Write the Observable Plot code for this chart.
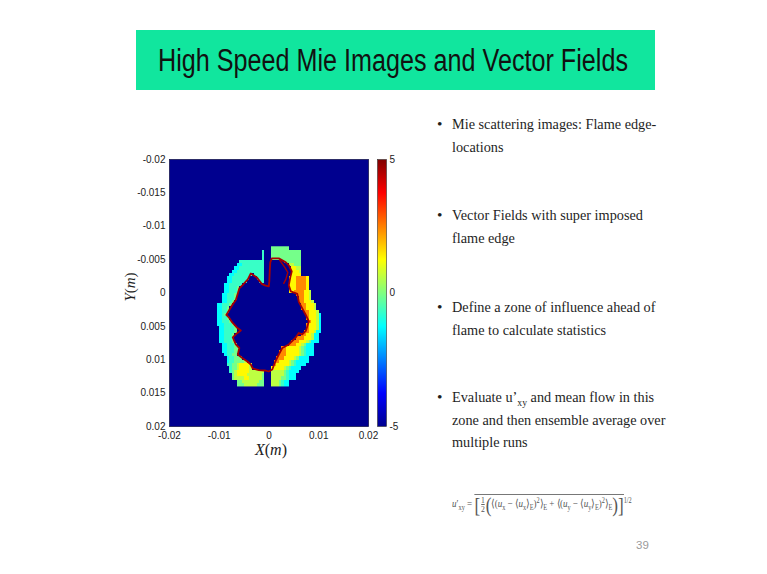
<!DOCTYPE html>
<html>
<head>
<meta charset="utf-8">
<script src="https://cdn.jsdelivr.net/npm/d3@7"></script>
<script src="https://cdn.jsdelivr.net/npm/@observablehq/plot@0.6"></script>
<style>
  html, body { margin: 0; padding: 0; background: #ffffff; }
  body { width: 767px; height: 574px; position: relative; overflow: hidden; }
  .abs { position: absolute; }
  #title { left: 136px; top: 30px; width: 519px; height: 60px; background: #11e69e; }
  #ttext { position: absolute; left: 22px; top: 15px; font-family: 'Liberation Sans', Arial, sans-serif; font-size: 31px; line-height: 31px;
           color: #111; white-space: nowrap; transform-origin: 0 0; }
  .dot { font-family: 'Liberation Serif', 'Times New Roman', serif; font-size: 15.5px; line-height: 22.5px; color: #1e1e1e; }
  .txt { font-family: 'Liberation Serif', 'Times New Roman', serif; font-size: 15.5px; line-height: 22.5px; color: #1e1e1e;
         white-space: nowrap; transform: scaleX(0.92); transform-origin: 0 0; }
  .txt sub { font-size: 0.68em; vertical-align: -0.4em; line-height: 0; }
  .axlab { font-family: 'Liberation Serif', 'Times New Roman', serif; color: #222; white-space: nowrap; }
  #formula { font-family: 'Liberation Serif', 'Times New Roman', serif; font-size: 10.5px; color: #555; white-space: nowrap;
             transform: scaleX(0.86); transform-origin: 0 50%; }
  #formula sub, #formula sup { font-size: 0.7em; line-height: 0; }
  #formula .ov { border-top: 0.8px solid #777; display: inline-block; padding-top: 1px; }
  #formula .frac { display: inline-block; vertical-align: middle; text-align: center; font-size: 0.85em; line-height: 0.95em; margin: 0 1px; }
  #formula .frac span { display: block; }
  #formula .frac span:first-child { border-bottom: 0.6px solid #666; }
  #formula .big { font-size: 1.9em; vertical-align: -0.22em; line-height: 0; }
</style>
</head>
<body>

<div id="title" class="abs"><span id="ttext">High Speed Mie Images and Vector Fields</span></div>

<div id="plot" class="abs" style="left:100px;top:140px"></div>
<div id="cbar" class="abs" style="left:370px;top:150px"></div>

<div class="abs axlab" style="left:271px;top:450px;transform:translate(-50%,-50%);font-size:16px"><i>X</i>(<i>m</i>)</div>
<div class="abs axlab" style="left:130px;top:287px;transform:translate(-50%,-50%) rotate(-90deg);font-size:15px"><i>Y</i>(<i>m</i>)</div>

<div class="abs dot" style="left:437px;top:113px">•</div>
<div class="abs txt" style="left:452px;top:113px">Mie scattering images: Flame edge-<br>locations</div>

<div class="abs dot" style="left:437px;top:204px">•</div>
<div class="abs txt" style="left:452px;top:204px">Vector Fields with super imposed<br>flame edge</div>

<div class="abs dot" style="left:437px;top:296px">•</div>
<div class="abs txt" style="left:452px;top:296px">Define a zone of influence ahead of<br>flame to calculate statistics</div>

<div class="abs dot" style="left:437px;top:386px">•</div>
<div class="abs txt" style="left:452px;top:386px">Evaluate u’<sub>xy</sub> and mean flow in this<br>zone and then ensemble average over<br>multiple runs</div>

<div id="formula" class="abs" style="left:452px;top:494px">
<i>u</i>′<sub>xy</sub> = <span class="ov"><span class="big">[</span><span class="frac"><span>1</span><span>2</span></span><span class="big">(</span>⟨(<i>u</i><sub>x</sub> − ⟨<i>u</i><sub>x</sub>⟩<sub>E</sub>)<sup>2</sup>⟩<sub>E</sub> + ⟨(<i>u</i><sub>y</sub> − ⟨<i>u</i><sub>y</sub>⟩<sub>E</sub>)<sup>2</sup>⟩<sub>E</sub><span class="big">)</span><span class="big">]</span></span><sup>1/2</sup>
</div>

<div class="abs" style="left:636px;top:539px;font:11.5px 'Liberation Sans', Arial, sans-serif;color:#9a9a9a">39</div>

<script>
// ---------- data ----------
// axis ticks
const xTicks = [-0.02, -0.01, 0, 0.01, 0.02];
const xTickLabels = ["-0.02", "-0.01", "0", "0.01", "0.02"];
const yTicks = [-0.02, -0.015, -0.01, -0.005, 0, 0.005, 0.01, 0.015, 0.02];
const yTickLabels = ["-0.02", "-0.015", "-0.01", "-0.005", "0", "0.005", "0.01", "0.015", "0.02"];
const cbTicks = [-5, 0, 5];
const cbTickLabels = ["-5", "0", "5"];
const colorLimits = [-5, 5];

// field grid (0.5 mm cells) covering the zone of influence
const gridCols = 44, gridRows = 42;
const gridX = [-0.011, 0.011];
const gridY = [-0.007, 0.014];
// colour levels used in the grid (value of each level)
const levelChars  = [".", "b", "c", "a", "g", "l", "y", "o", "r"];
const levelValues = [-5, -2, -1.25, -0.7, -0.1, 0.6, 1.3, 2.4, 3.5];
// run-length rows, top (y=-0.007) to bottom (y=0.014)
const fieldRows = [
  "23.7g14.",
  "19.1a3.12g9.",
  "19.1a3.12g9.",
  "19.1a3.12g9.",
  "10.10a8.7g9.",
  "9.2c9a10.2l3g9.",
  "8.2c10a11.2y2l9.",
  "7.2c11a11.3y1l9.",
  "6.2c7a1.4a11.4y9.",
  "5.2c7a3.3a10.3y4o1y6.",
  "5.2c6a5.2a10.3y4o1y6.",
  "4.2c5a19.3y4o1y6.",
  "4.2c3a1g20.3y4o1y6.",
  "4.2c3a1g20.2y4o2y1l5.",
  "3.2c3a1g24.3o2y1l5.",
  "3.2c3a1g25.2o2y1l5.",
  "3.2c2a1g26.2o3y1l4.",
  "1.2c3a1g28.2o3y1l3.",
  "1.2c2a1g29.2o3y1l3.",
  "1.2c2a1g30.2o3y1l2.",
  "1.2c1a1g32.1o3y1l1c1.",
  "1.2c2a1g31.1o3y1l1c1.",
  "1.2c3a1g31.1o2y1l1c1.",
  "1.3c3a1g29.1o3y1l1c1.",
  "2.2c4a1g28.1o3y1l1c1.",
  "2.2c4a1g27.2o2y1l2c1.",
  "2.2c3a1g27.2o2y1l2c2.",
  "2.2c3a1g25.3o3y1l2c2.",
  "2.2c3a1g23.3o3y1l1g3c2.",
  "3.2c3a1g21.3o2y1l1g3c4.",
  "3.2c3a2g17.2o5y1l1g1a3c4.",
  "3.2c3a2g16.3o5y1l1g1a3c4.",
  "4.1c2a2g17.3o5y1l1g1a3c4.",
  "5.1c2a3g14.3o4y1l1g4c6.",
  "5.1c2a4g1l11.2o4y1l1g1a5c6.",
  "5.2a2g1l4y1l9.1o5y1l1g1a4c7.",
  "6.1a2g1l4y1l8.5y1l1g1a4c9.",
  "6.1a1g1l5y6l3.5l1g1a4c10.",
  "7.1g1l4y6l1g3.5l1g1a3c11.",
  "7.1g4l2y5l1g3.4l2g1a3c11.",
  "9.2g7l2g3.3l1g1a2c14.",
  "9.3g5l3g3.3l1g1a2c14."
];

// flame edge (m)
const flameX = [-0.00145, -0.00245, -0.00366, -0.00426, -0.00527, -0.00597, -0.00627, -0.00667, -0.00738, -0.00798,
  -0.00858, -0.00798, -0.00738, -0.00647, -0.00567, -0.00647, -0.00728, -0.00667, -0.00597, -0.00627,
  -0.00537, -0.00436, -0.00366, -0.00326, -0.00205, -0.00084, -0.00004, 0.00066, 0.00127, 0.00197,
  0.00267, 0.00398, 0.00529, 0.00599, 0.00669, 0.0074, 0.008, 0.0074, 0.00669, 0.00599,
  0.00569, 0.00438, 0.00398, 0.00428, 0.00458, 0.00398, 0.00338, 0.00197, 0.00056, 0.00026,
  0.00016, 0.00006, -0.00004, -0.00084, -0.00145];
const flameY = [-0.00137, -0.00234, -0.00294, -0.00204, -0.00122, -0.00069, 0.00006, 0.00104, 0.00179, 0.00254,
  0.00329, 0.00374, 0.00441, 0.00516, 0.00561, 0.00606, 0.00666, 0.00771, 0.00824, 0.00921,
  0.00974, 0.01026, 0.01071, 0.01131, 0.01154, 0.01161, 0.01176, 0.01146, 0.01026, 0.00921,
  0.00824, 0.00771, 0.00674, 0.00599, 0.00621, 0.00569, 0.00426, 0.00329, 0.00231, 0.00134,
  0.00014, -0.00024, -0.00114, -0.00234, -0.00324, -0.00414, -0.00459, -0.00519, -0.00519, -0.00459,
  -0.00339, -0.00174, -0.00099, -0.00114, -0.00137];
// small secondary edge fragment inside the top-right pocket
const pocketX = [0.00217, 0.00318, 0.00378, 0.00338, 0.00297];
const pocketY = [-0.00489, -0.00384, -0.00309, -0.00204, -0.00144];

// jet colormap anchors
const jetStops = [-5, -3.75, -1.25, 1.25, 3.75, 5];
const jetColors = ["#00008f", "#0000ff", "#00ffff", "#ffff00", "#ff0000", "#800000"];

// ---------- title fit (narrow face in the original) ----------
const tt = document.getElementById("ttext");
const tw = tt.getBoundingClientRect().width;
tt.style.transform = `scaleX(${470 / tw})`;

// ---------- build ----------
const decodeRow = s => [...s.matchAll(/(\d+)(\D)/g)].map(m => m[2].repeat(+m[1])).join("");
const grid = fieldRows.map(decodeRow).map(r => r.padEnd(gridCols, ".").slice(0, gridCols));
const cellValues = grid.flatMap(r => [...r].map(ch => levelValues[levelChars.indexOf(ch)]));
const flame = flameX.map((x, i) => ({x, y: flameY[i]}));
const pocket = pocketX.map((x, i) => ({x, y: pocketY[i]}));

const colorOpts = {type: "linear", domain: jetStops, range: jetColors, interpolate: "rgb"};
const fmt = (ticks, labels) => d => labels[ticks.indexOf(d)];
const styleOpts = {background: "transparent", fontFamily: "'Liberation Sans', Arial, sans-serif", fontSize: "10px", color: "#222", overflow: "visible"};

const main = Plot.plot({
  width: 280, height: 320,
  marginLeft: 69, marginRight: 12, marginTop: 19, marginBottom: 34,
  style: styleOpts,
  x: {domain: [xTicks[0], xTicks[xTicks.length - 1]], ticks: xTicks, tickFormat: fmt(xTicks, xTickLabels), tickSize: 0, tickPadding: 5, label: null},
  y: {domain: [yTicks[0], yTicks[yTicks.length - 1]], reverse: true, ticks: yTicks, tickFormat: fmt(yTicks, yTickLabels), tickSize: 0, tickPadding: 4, label: null},
  color: colorOpts,
  marks: [
    Plot.frame({fill: jetColors[0]}),
    Plot.raster(cellValues, {width: gridCols, height: gridRows, x1: gridX[0], x2: gridX[1], y1: gridY[0], y2: gridY[1], fill: Plot.identity, imageRendering: "pixelated"}),
    Plot.line(flame, {x: "x", y: "y", stroke: "#a80000", strokeWidth: 1.8, strokeLinejoin: "round"}),
    Plot.line(pocket, {x: "x", y: "y", stroke: "#a80000", strokeWidth: 1.4}),
    Plot.frame({stroke: "#1a1a50", strokeWidth: 0.8})
  ]
});
document.getElementById("plot").appendChild(main);

const cbar = Plot.plot({
  width: 40, height: 290,
  marginLeft: 7, marginRight: 24, marginTop: 9, marginBottom: 14,
  style: styleOpts,
  x: {domain: [0, 1], axis: null},
  y: {domain: colorLimits, ticks: cbTicks, tickFormat: fmt(cbTicks, cbTickLabels), axis: "right", tickSize: 0, tickPadding: 3, label: null},
  color: colorOpts,
  marks: [
    Plot.raster({x1: 0, x2: 1, y1: colorLimits[0], y2: colorLimits[1], fill: (x, y) => y, pixelSize: 1}),
    Plot.frame({stroke: "#333", strokeWidth: 0.6})
  ]
});
document.getElementById("cbar").appendChild(cbar);
</script>
</body>
</html>
